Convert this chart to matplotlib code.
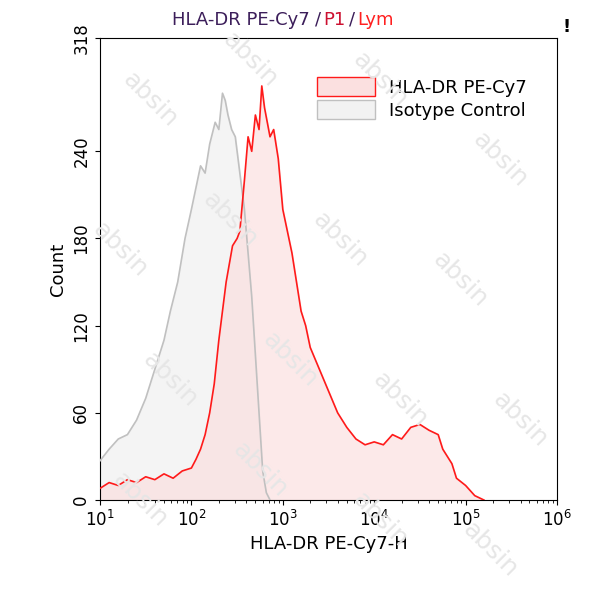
import matplotlib
matplotlib.use("Agg")
import matplotlib.pyplot as plt
from matplotlib.patches import Patch

# log10 positions and counts
hla_x = [1.0,1.1,1.2,1.3,1.4,1.5,1.6,1.7,1.8,1.9,2.0,2.05,2.1,2.15,2.2,2.25,2.3,2.38,2.45,2.5,2.53,2.58,2.62,2.66,2.7,2.74,2.77,2.8,2.83,2.86,2.9,2.95,3.0,3.05,3.1,3.15,3.2,3.25,3.3,3.4,3.5,3.6,3.7,3.8,3.9,4.0,4.1,4.2,4.3,4.4,4.5,4.6,4.7,4.75,4.8,4.85,4.9,5.0,5.1,5.2]
hla_y = [8,12,10,14,12,16,14,18,15,20,22,28,35,45,60,80,110,150,175,180,185,220,250,240,265,255,285,270,260,250,255,235,200,185,170,150,130,120,105,90,75,60,50,42,38,40,38,45,42,50,52,48,45,35,30,25,15,10,3,0]
iso_x = [1.0,1.1,1.2,1.3,1.4,1.5,1.6,1.7,1.77,1.85,1.93,2.0,2.05,2.1,2.15,2.2,2.26,2.3,2.34,2.37,2.4,2.44,2.48,2.53,2.58,2.62,2.66,2.7,2.73,2.76,2.78,2.82,2.86]
iso_y = [27,35,42,45,55,70,90,110,130,150,180,200,215,230,225,245,260,255,280,275,265,255,250,225,200,170,140,100,70,40,20,5,0]

fig = plt.figure(figsize=(5.93, 6.0), dpi=100)
ax = fig.add_axes([100/593, 100/600, 457/593, 462/600])

for xp, yp in [(150, 100), (250, 60), (380, 80), (500, 160), (120, 250), (230, 220), (340, 240), (460, 280), (170, 380), (290, 360), (400, 400), (520, 420), (140, 500), (260, 470), (380, 520), (490, 550)]:
    fig.text(xp/593, 1-yp/600, "absin", rotation=-45, fontsize=18, color="#e6e6e6",
             ha="center", va="center", zorder=0)

hx = [10**v for v in hla_x]
ix = [10**v for v in iso_x]
ax.fill_between(ix, iso_y, color="#f2f2f2", alpha=0.8, zorder=2)
ax.plot(ix, iso_y, color="#c0c0c0", lw=1.2, zorder=3)
ax.fill_between(hx, hla_y, color="#fbe0e0", alpha=0.7, zorder=2)
ax.plot(hx, hla_y, color="#ff1a1a", lw=1.2, zorder=4)
ax.patch.set_alpha(0)

ax.set_xscale("log")
ax.set_xlim(10, 1e6)
ax.set_ylim(0, 318)
ax.set_yticks([0, 60, 120, 180, 240, 318])
ax.set_yticklabels(["0", "60", "120", "180", "240", "318"], rotation=90, va="center")
ax.tick_params(labelsize=12)
ax.set_xlabel("HLA-DR PE-Cy7-H", fontsize=13)
ax.set_ylabel("Count", fontsize=13)

leg = ax.legend(handles=[Patch(facecolor="#fbe0e0", edgecolor="#ff1a1a", label="HLA-DR PE-Cy7"),
                         Patch(facecolor="#f2f2f2", edgecolor="#c0c0c0", label="Isotype Control")],
                loc="upper right", frameon=False, fontsize=13, handlelength=3.2, handleheight=1.2,
                bbox_to_anchor=(0.97, 0.95), labelspacing=0.2)

fig.text(0.29, 0.967, "HLA-DR PE-Cy7", color="#3c1e5a", fontsize=13, ha="left", va="center")
fig.text(0.531, 0.967, "/", color="#3c1e5a", fontsize=13, ha="left", va="center")
fig.text(0.545, 0.967, "P1", color="#cc1030", fontsize=13, ha="left", va="center")
fig.text(0.588, 0.967, "/", color="#3c1e5a", fontsize=13, ha="left", va="center")
fig.text(0.602, 0.967, "Lym", color="#ff2020", fontsize=13, ha="left", va="center")
fig.text(0.955, 0.955, "!", color="black", fontsize=13, fontweight="bold", ha="center", va="center")

fig.savefig("out.png", dpi=100)
